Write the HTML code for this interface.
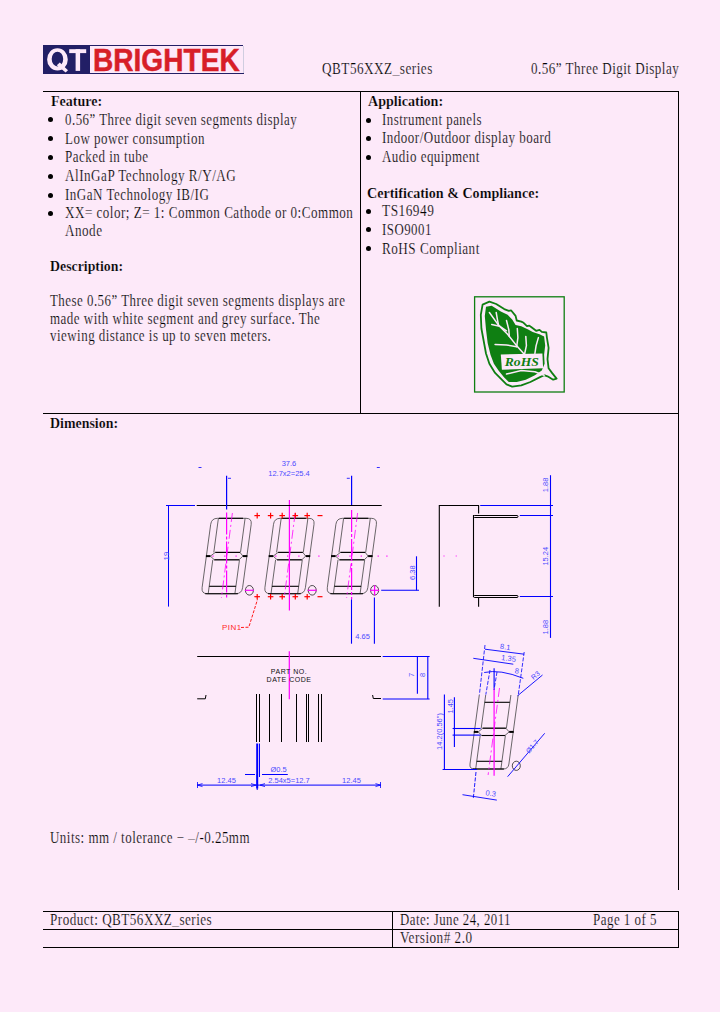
<!DOCTYPE html>
<html><head><meta charset="utf-8">
<style>
html,body{margin:0;padding:0;}
body{width:720px;height:1012px;background:#fde9f9;position:relative;overflow:hidden;}
.t{position:absolute;white-space:nowrap;line-height:0;transform-origin:0 0;}
.t span{display:inline-block;line-height:0;vertical-align:baseline;-webkit-text-stroke:0.2px #fde9f9;}
.hl{position:absolute;background:#000;height:1px;}
.vl{position:absolute;background:#000;width:1px;}
.t.s span{-webkit-text-stroke:0.5px currentColor;}
.bul{position:absolute;width:5px;height:5px;border-radius:50%;background:#000;}
svg{position:absolute;left:0;top:0;}
</style></head><body>
<div style="position:absolute;left:43px;top:45px;width:47px;height:29px;background:#221f66"></div>
<div style="position:absolute;left:90px;top:45px;width:153px;height:1px;background:#221f66"></div>
<svg width="100" height="80" viewBox="0 0 100 80" style="position:absolute;left:0;top:0"><path fill="#fde9f9" fill-rule="evenodd" d="M47.1,59.4 A10.35,11.2 0 1 0 67.8,59.4 A10.35,11.2 0 1 0 47.1,59.4 Z M51.7,59.05 A5.75,7.35 0 1 0 63.2,59.05 A5.75,7.35 0 1 0 51.7,59.05 Z"/><path fill="#fde9f9" d="M56.8,65.2 L59.8,62.6 L68,70.2 L65.6,72.4 Z"/><rect x="69.2" y="49.2" width="17" height="3.9" fill="#fde9f9"/><rect x="75.6" y="49.2" width="4.5" height="21.7" fill="#fde9f9"/></svg>
<div style="position:absolute;left:90px;top:73px;width:154px;height:1px;background:#221f66"></div>
<div style="position:absolute;left:243px;top:46px;width:1px;height:27px;background:#d0cde0"></div>
<div class="hl" style="left:43px;top:91px;width:636px"></div>
<div class="vl" style="left:678px;top:91px;height:799px"></div>
<div class="vl" style="left:360px;top:91px;height:323px"></div>
<div class="hl" style="left:43px;top:413px;width:636px"></div>
<div class="hl" style="left:43px;top:911px;width:636px"></div>
<div class="hl" style="left:43px;top:929px;width:636px"></div>
<div class="hl" style="left:43px;top:947px;width:636px"></div>
<div class="vl" style="left:392px;top:911px;height:37px"></div>
<div class="vl" style="left:678px;top:911px;height:37px"></div>
<div class="bul" style="left:48.0px;top:117.2px"></div><div class="bul" style="left:48.0px;top:136.0px"></div><div class="bul" style="left:48.0px;top:155.0px"></div><div class="bul" style="left:48.0px;top:173.5px"></div><div class="bul" style="left:48.0px;top:192.5px"></div><div class="bul" style="left:48.0px;top:211.0px"></div><div class="bul" style="left:366.0px;top:117.5px"></div><div class="bul" style="left:366.0px;top:136.0px"></div><div class="bul" style="left:366.0px;top:154.7px"></div><div class="bul" style="left:366.0px;top:209.2px"></div><div class="bul" style="left:366.0px;top:227.4px"></div><div class="bul" style="left:366.0px;top:246.2px"></div>
<svg width="720" height="1012" viewBox="0 0 720 1012"><rect x="474.6" y="296.8" width="89.6" height="95.2" fill="none" stroke="#0f7f12" stroke-width="1.3"/><path d="M482.6,304.6 L489.4,301.7 L496.2,304.0 L504.2,309.1 L508.8,310.8 L511.0,310.3 L515.6,315.9 L516.7,320.5 L521.3,321.6 L523.6,322.8 L527.0,326.2 L529.3,325.6 L531.5,327.3 L536.1,330.8 L539.5,329.8 L541.8,331.9 L546.3,332.5 L546.9,337.6 L548.6,347.8 L547.5,359.2 L548.6,368.3 L552.0,372.9 L556.6,378.6 L553.2,379.7 L547.5,376.3 L544.1,375.2 L539.5,377.4 L530.4,382.0 L521.3,385.4 L512.2,386.6 L506.5,384.3 L500.8,378.6 L495.1,372.9 L489.4,363.8 L486.0,353.5 L483.7,341.0 L481.4,328.5 L480.8,314.8 Z" fill="none" stroke="#0f7f12" stroke-width="1.8" stroke-linejoin="round"/><path d="M486.0,306.8 L491.7,305.7 L500.8,311.4 L507.6,314.8 L512.2,319.4 L515.6,325.1 L521.3,326.2 L528.1,329.6 L532.7,331.9 L539.5,334.2 L544.1,336.4 L545.2,345.6 L544.1,354.7 L544.6,363.8 L541.8,370.6 L534.9,375.2 L525.8,379.7 L516.7,382.0 L508.8,382.0 L504.2,377.4 L498.5,370.6 L493.9,363.8 L490.5,354.7 L487.7,343.3 L486.0,329.6 L484.8,315.9 Z" fill="#0f7f12" stroke="none"/><path d="M489.4,312.5 L498.5,325.1 L507.6,334.2 L515.6,344.4 L523.6,353.5" fill="none" stroke="#fde9f9" stroke-width="1.5" stroke-linecap="round" stroke-linejoin="round"/><path d="M491.7,324.5 L499.6,326.2 L506.5,330.8" fill="none" stroke="#fde9f9" stroke-width="1.5" stroke-linecap="round" stroke-linejoin="round"/><path d="M495.1,344.4 L506.5,345.0 L516.7,346.7" fill="none" stroke="#fde9f9" stroke-width="1.5" stroke-linecap="round" stroke-linejoin="round"/><path d="M496.2,312.5 L497.4,319.4 L498.5,325.1" fill="none" stroke="#fde9f9" stroke-width="1.5" stroke-linecap="round" stroke-linejoin="round"/><path d="M506.5,320.5 L508.8,329.6 L509.3,336.4" fill="none" stroke="#fde9f9" stroke-width="1.5" stroke-linecap="round" stroke-linejoin="round"/><path d="M517.3,328.5 L517.9,337.6 L516.7,346.7" fill="none" stroke="#fde9f9" stroke-width="1.5" stroke-linecap="round" stroke-linejoin="round"/><path d="M525.8,336.4 L526.4,345.6 L524.7,353.5" fill="none" stroke="#fde9f9" stroke-width="1.5" stroke-linecap="round" stroke-linejoin="round"/><path d="M538.4,337.6 L536.1,345.6 L534.9,353.5" fill="none" stroke="#fde9f9" stroke-width="1.5" stroke-linecap="round" stroke-linejoin="round"/><path d="M506.5,374.0 L521.3,370.6 L534.9,371.8 L544.1,375.2" fill="none" stroke="#fde9f9" stroke-width="1.5" stroke-linecap="round" stroke-linejoin="round"/><path d="M500.8,354.4 L542.4,353.5 L543.1,368.3 L501.9,369.7 Z" fill="#fde9f9"/><text x="521.8" y="365.8" fill="#0f7f12" font-family="Liberation Serif, serif" font-style="italic" font-weight="bold" font-size="12.5" text-anchor="middle" textLength="34" lengthAdjust="spacingAndGlyphs">RoHS</text></svg>
<svg width="720" height="1012" viewBox="0 0 720 1012"><path d="M217.5,518.3 L246.0,518.3 Q252.0,518.3 251.2,524.3 L242.6,587.7 Q241.8,593.7 235.8,593.7 L207.3,593.7 Q201.3,593.7 202.1,587.7 L210.7,524.3 Q211.5,518.3 217.5,518.3 Z" stroke="#444" stroke-width="0.8" fill="none" /><line x1="218.4" y1="518.3" x2="213.8" y2="552.4" stroke="#444" stroke-width="0.8" /><line x1="245.1" y1="518.3" x2="240.5" y2="552.4" stroke="#444" stroke-width="0.8" /><line x1="212.8" y1="559.8" x2="208.2" y2="593.7" stroke="#444" stroke-width="0.8" /><line x1="239.5" y1="559.8" x2="234.9" y2="593.7" stroke="#444" stroke-width="0.8" /><path d="M210.4,556.1 L215.3,552.4 L240.0,552.4 L242.9,556.1 L239.0,559.8 L214.3,559.8 Z" stroke="#444" stroke-width="0.8" fill="none" /><line x1="215.3" y1="552.4" x2="240.0" y2="552.4" stroke="#000" stroke-width="1.1" /><line x1="214.3" y1="559.8" x2="239.0" y2="559.8" stroke="#000" stroke-width="1.1" /><line x1="205.9" y1="556.1" x2="210.4" y2="556.1" stroke="#000" stroke-width="2" /><line x1="242.9" y1="556.1" x2="247.4" y2="556.1" stroke="#000" stroke-width="2" /><line x1="209.2" y1="586.3" x2="235.9" y2="586.3" stroke="#000" stroke-width="1.1" /><line x1="205.2" y1="593.7" x2="237.9" y2="593.7" stroke="#000" stroke-width="1.1" /><line x1="218.9" y1="518.3" x2="243.1" y2="518.3" stroke="#000" stroke-width="1.1" /><path d="M280.3,518.3 L308.8,518.3 Q314.8,518.3 314.0,524.3 L305.4,587.7 Q304.6,593.7 298.6,593.7 L270.1,593.7 Q264.1,593.7 264.9,587.7 L273.5,524.3 Q274.3,518.3 280.3,518.3 Z" stroke="#444" stroke-width="0.8" fill="none" /><line x1="281.2" y1="518.3" x2="276.6" y2="552.4" stroke="#444" stroke-width="0.8" /><line x1="307.9" y1="518.3" x2="303.3" y2="552.4" stroke="#444" stroke-width="0.8" /><line x1="275.6" y1="559.8" x2="271.0" y2="593.7" stroke="#444" stroke-width="0.8" /><line x1="302.3" y1="559.8" x2="297.7" y2="593.7" stroke="#444" stroke-width="0.8" /><path d="M273.2,556.1 L278.1,552.4 L302.8,552.4 L305.7,556.1 L301.8,559.8 L277.1,559.8 Z" stroke="#444" stroke-width="0.8" fill="none" /><line x1="278.1" y1="552.4" x2="302.8" y2="552.4" stroke="#000" stroke-width="1.1" /><line x1="277.1" y1="559.8" x2="301.8" y2="559.8" stroke="#000" stroke-width="1.1" /><line x1="268.7" y1="556.1" x2="273.2" y2="556.1" stroke="#000" stroke-width="2" /><line x1="305.7" y1="556.1" x2="310.2" y2="556.1" stroke="#000" stroke-width="2" /><line x1="272.0" y1="586.3" x2="298.7" y2="586.3" stroke="#000" stroke-width="1.1" /><line x1="268.0" y1="593.7" x2="300.7" y2="593.7" stroke="#000" stroke-width="1.1" /><line x1="281.7" y1="518.3" x2="305.9" y2="518.3" stroke="#000" stroke-width="1.1" /><path d="M342.7,518.3 L371.2,518.3 Q377.2,518.3 376.4,524.3 L367.8,587.7 Q367.0,593.7 361.0,593.7 L332.5,593.7 Q326.5,593.7 327.3,587.7 L335.9,524.3 Q336.7,518.3 342.7,518.3 Z" stroke="#444" stroke-width="0.8" fill="none" /><line x1="343.6" y1="518.3" x2="339.0" y2="552.4" stroke="#444" stroke-width="0.8" /><line x1="370.3" y1="518.3" x2="365.7" y2="552.4" stroke="#444" stroke-width="0.8" /><line x1="338.0" y1="559.8" x2="333.4" y2="593.7" stroke="#444" stroke-width="0.8" /><line x1="364.7" y1="559.8" x2="360.1" y2="593.7" stroke="#444" stroke-width="0.8" /><path d="M335.6,556.1 L340.5,552.4 L365.2,552.4 L368.1,556.1 L364.2,559.8 L339.5,559.8 Z" stroke="#444" stroke-width="0.8" fill="none" /><line x1="340.5" y1="552.4" x2="365.2" y2="552.4" stroke="#000" stroke-width="1.1" /><line x1="339.5" y1="559.8" x2="364.2" y2="559.8" stroke="#000" stroke-width="1.1" /><line x1="331.1" y1="556.1" x2="335.6" y2="556.1" stroke="#000" stroke-width="2" /><line x1="368.1" y1="556.1" x2="372.6" y2="556.1" stroke="#000" stroke-width="2" /><line x1="334.4" y1="586.3" x2="361.1" y2="586.3" stroke="#000" stroke-width="1.1" /><line x1="330.4" y1="593.7" x2="363.1" y2="593.7" stroke="#000" stroke-width="1.1" /><line x1="344.1" y1="518.3" x2="368.3" y2="518.3" stroke="#000" stroke-width="1.1" /><line x1="226.6" y1="512.5" x2="226.6" y2="599.5" stroke="#ff00ff" stroke-width="1.2" stroke-dasharray="22 2 3 2"/><line x1="289.4" y1="500.0" x2="289.4" y2="610.5" stroke="#ff00ff" stroke-width="1.2" /><line x1="351.6" y1="510.0" x2="351.6" y2="599.5" stroke="#ff00ff" stroke-width="1.2" stroke-dasharray="22 2 3 2"/><line x1="232.4" y1="513.0" x2="221.4" y2="598.0" stroke="#ff00ff" stroke-width="0.8" stroke-dasharray="9 3 2 3"/><rect x="212.4" y="555.5" width="1.2" height="1.2" fill="#ff00ff"/><rect x="224.2" y="555.5" width="1.2" height="1.2" fill="#ff00ff"/><rect x="235.5" y="555.5" width="1.2" height="1.2" fill="#ff00ff"/><line x1="295.2" y1="513.0" x2="284.2" y2="598.0" stroke="#ff00ff" stroke-width="0.8" stroke-dasharray="9 3 2 3"/><rect x="275.2" y="555.5" width="1.2" height="1.2" fill="#ff00ff"/><rect x="287.0" y="555.5" width="1.2" height="1.2" fill="#ff00ff"/><rect x="298.3" y="555.5" width="1.2" height="1.2" fill="#ff00ff"/><line x1="357.6" y1="513.0" x2="346.6" y2="598.0" stroke="#ff00ff" stroke-width="0.8" stroke-dasharray="9 3 2 3"/><rect x="337.6" y="555.5" width="1.2" height="1.2" fill="#ff00ff"/><rect x="349.4" y="555.5" width="1.2" height="1.2" fill="#ff00ff"/><rect x="360.7" y="555.5" width="1.2" height="1.2" fill="#ff00ff"/><rect x="318.3" y="555.5" width="1.2" height="1.2" fill="#ff00ff"/><rect x="377.6" y="555.5" width="1.2" height="1.2" fill="#ff00ff"/><rect x="386.3" y="555.5" width="1.2" height="1.2" fill="#ff00ff"/><ellipse cx="249.4" cy="590.3" rx="4" ry="4.8" stroke="#222" stroke-width="0.8" fill="none"/><line x1="244.9" y1="590.3" x2="253.9" y2="590.3" stroke="#ff00ff" stroke-width="1.2" /><ellipse cx="312.2" cy="590.3" rx="4" ry="4.8" stroke="#222" stroke-width="0.8" fill="none"/><line x1="307.7" y1="590.3" x2="316.7" y2="590.3" stroke="#ff00ff" stroke-width="1.2" /><ellipse cx="374.6" cy="590.3" rx="4" ry="4.8" stroke="#222" stroke-width="0.8" fill="none"/><line x1="370.1" y1="590.3" x2="379.1" y2="590.3" stroke="#ff00ff" stroke-width="1.2" /><line x1="374.6" y1="585.3" x2="374.6" y2="595.3" stroke="#ff00ff" stroke-width="1.2" /><line x1="196.7" y1="505.5" x2="381.7" y2="505.5" stroke="#000" stroke-width="1.1" /><line x1="197.2" y1="656.5" x2="381.0" y2="656.5" stroke="#000" stroke-width="1.1" /><line x1="166.0" y1="505.5" x2="195.0" y2="505.5" stroke="#0000ff" stroke-width="1" /><line x1="168.5" y1="505.5" x2="168.5" y2="606.6" stroke="#0000ff" stroke-width="1" /><text x="167.0" y="556.0" fill="#4b4bff" font-size="8" text-anchor="middle" font-family="Liberation Sans, sans-serif" transform="rotate(-90 167 556)" dominant-baseline="middle">19</text><line x1="226.6" y1="475.8" x2="226.6" y2="509.5" stroke="#0000ff" stroke-width="1.2" /><line x1="351.6" y1="475.8" x2="351.6" y2="505.0" stroke="#0000ff" stroke-width="1.2" /><line x1="351.5" y1="599.4" x2="351.5" y2="643.7" stroke="#0000ff" stroke-width="1.1" /><line x1="374.4" y1="597.5" x2="374.4" y2="643.7" stroke="#0000ff" stroke-width="1.1" /><text x="362.6" y="638.6" fill="#4b4bff" font-size="7.5" text-anchor="middle" font-family="Liberation Sans, sans-serif" >4.65</text><line x1="381.2" y1="590.3" x2="419.0" y2="590.3" stroke="#0000ff" stroke-width="1.1" /><line x1="416.5" y1="556.3" x2="416.5" y2="590.3" stroke="#0000ff" stroke-width="1.1" /><text x="413.5" y="572.6" fill="#4b4bff" font-size="7.5" text-anchor="middle" font-family="Liberation Sans, sans-serif" transform="rotate(-90 413.5 572.6)" dominant-baseline="middle">6.38</text><text x="289.0" y="465.5" fill="#4b4bff" font-size="7.5" text-anchor="middle" font-family="Liberation Sans, sans-serif" >37.6</text><text x="289.0" y="476.2" fill="#4b4bff" font-size="7.5" text-anchor="middle" font-family="Liberation Sans, sans-serif" >12.7x2=25.4</text><line x1="198.5" y1="467.5" x2="201.5" y2="467.5" stroke="#0000ff" stroke-width="0.8" /><line x1="376.8" y1="467.5" x2="379.8" y2="467.5" stroke="#0000ff" stroke-width="0.8" /><line x1="228.0" y1="478.3" x2="231.0" y2="478.3" stroke="#0000ff" stroke-width="0.8" /><line x1="346.8" y1="478.3" x2="349.8" y2="478.3" stroke="#0000ff" stroke-width="0.8" /><line x1="254.4" y1="515.6" x2="260.0" y2="515.6" stroke="#ff0000" stroke-width="1.2" /><line x1="257.2" y1="512.8" x2="257.2" y2="518.4" stroke="#ff0000" stroke-width="1.2" /><line x1="267.8" y1="515.6" x2="273.4" y2="515.6" stroke="#ff0000" stroke-width="1.2" /><line x1="270.6" y1="512.8" x2="270.6" y2="518.4" stroke="#ff0000" stroke-width="1.2" /><line x1="279.4" y1="515.6" x2="285.0" y2="515.6" stroke="#ff0000" stroke-width="1.2" /><line x1="282.2" y1="512.8" x2="282.2" y2="518.4" stroke="#ff0000" stroke-width="1.2" /><line x1="292.5" y1="515.6" x2="298.1" y2="515.6" stroke="#ff0000" stroke-width="1.2" /><line x1="295.3" y1="512.8" x2="295.3" y2="518.4" stroke="#ff0000" stroke-width="1.2" /><line x1="304.4" y1="515.6" x2="310.0" y2="515.6" stroke="#ff0000" stroke-width="1.2" /><line x1="307.2" y1="512.8" x2="307.2" y2="518.4" stroke="#ff0000" stroke-width="1.2" /><line x1="317.5" y1="515.6" x2="322.5" y2="515.6" stroke="#ff0000" stroke-width="1.2" /><line x1="254.4" y1="596.7" x2="260.0" y2="596.7" stroke="#ff0000" stroke-width="1.2" /><line x1="257.2" y1="593.9" x2="257.2" y2="599.5" stroke="#ff0000" stroke-width="1.2" /><line x1="267.8" y1="596.7" x2="273.4" y2="596.7" stroke="#ff0000" stroke-width="1.2" /><line x1="270.6" y1="593.9" x2="270.6" y2="599.5" stroke="#ff0000" stroke-width="1.2" /><line x1="279.4" y1="596.7" x2="285.0" y2="596.7" stroke="#ff0000" stroke-width="1.2" /><line x1="282.2" y1="593.9" x2="282.2" y2="599.5" stroke="#ff0000" stroke-width="1.2" /><line x1="292.5" y1="596.7" x2="298.1" y2="596.7" stroke="#ff0000" stroke-width="1.2" /><line x1="295.3" y1="593.9" x2="295.3" y2="599.5" stroke="#ff0000" stroke-width="1.2" /><line x1="304.4" y1="596.7" x2="310.0" y2="596.7" stroke="#ff0000" stroke-width="1.2" /><line x1="307.2" y1="593.9" x2="307.2" y2="599.5" stroke="#ff0000" stroke-width="1.2" /><line x1="317.5" y1="596.7" x2="322.5" y2="596.7" stroke="#ff0000" stroke-width="1.2" /><text x="231.8" y="630.3" fill="#ff2a2a" font-size="8" text-anchor="middle" font-family="Liberation Sans, sans-serif" letter-spacing="0.4">PIN1</text><path d="M241,627.5 L248.8,627.2 L257.5,599.5" stroke="#ff0000" stroke-width="0.9" fill="none" stroke-dasharray="3 1.5"/><path d="M439.3,606.8 L439.3,505.5 L478.6,505.5 L478.6,513.5" stroke="#000" stroke-width="1.1" fill="none" /><rect x="473.5" y="515.5" width="44.5" height="2" stroke="#000" stroke-width="1" fill="none" rx="1"/><rect x="473.5" y="595.5" width="44.5" height="2" stroke="#000" stroke-width="1" fill="none" rx="1"/><line x1="473.5" y1="515.0" x2="473.5" y2="597.0" stroke="#000" stroke-width="1.1" /><line x1="478.6" y1="598.0" x2="478.6" y2="606.8" stroke="#000" stroke-width="1.1" /><line x1="480.2" y1="505.5" x2="553.0" y2="505.5" stroke="#0000ff" stroke-width="1.1" /><line x1="519.8" y1="515.5" x2="553.0" y2="515.5" stroke="#0000ff" stroke-width="1.1" /><line x1="519.8" y1="596.5" x2="553.0" y2="596.5" stroke="#0000ff" stroke-width="1.1" /><line x1="550.5" y1="475.2" x2="550.5" y2="637.9" stroke="#0000ff" stroke-width="1.1" /><text x="546.5" y="484.9" fill="#4b4bff" font-size="7.5" text-anchor="middle" font-family="Liberation Sans, sans-serif" transform="rotate(-90 546.5 484.9)" dominant-baseline="middle">1.88</text><text x="546.5" y="556.2" fill="#4b4bff" font-size="7.5" text-anchor="middle" font-family="Liberation Sans, sans-serif" transform="rotate(-90 546.5 556.2)" dominant-baseline="middle">15.24</text><text x="546.5" y="627.2" fill="#4b4bff" font-size="7.5" text-anchor="middle" font-family="Liberation Sans, sans-serif" transform="rotate(-90 546.5 627.2)" dominant-baseline="middle">1.88</text><rect x="443.5" y="555.5" width="1" height="1" fill="#ff00ff"/><rect x="455.7" y="555.5" width="1" height="1" fill="#ff00ff"/><line x1="289.3" y1="651.3" x2="289.3" y2="699.2" stroke="#ff00ff" stroke-width="1.2" /><text x="289.0" y="673.5" fill="#111" font-size="7" text-anchor="middle" font-family="Liberation Sans, sans-serif" letter-spacing="0.5" font-weight="normal">PART NO.</text><text x="289.0" y="682.3" fill="#111" font-size="7" text-anchor="middle" font-family="Liberation Sans, sans-serif" letter-spacing="0.5">DATE CODE</text><path d="M197.2,698.8 L205.3,698.8 L206,695" stroke="#000" stroke-width="1" fill="none" /><path d="M381,698.5 L373.3,698.5 L372.6,695" stroke="#000" stroke-width="1" fill="none" /><line x1="256.5" y1="694.0" x2="256.5" y2="742.0" stroke="#000" stroke-width="1" /><line x1="259.5" y1="694.0" x2="259.5" y2="742.0" stroke="#000" stroke-width="1" /><line x1="269.5" y1="694.0" x2="269.5" y2="742.0" stroke="#000" stroke-width="1" /><line x1="281.5" y1="694.0" x2="281.5" y2="742.0" stroke="#000" stroke-width="1" /><line x1="296.5" y1="694.0" x2="296.5" y2="742.0" stroke="#000" stroke-width="1" /><line x1="306.5" y1="694.0" x2="306.5" y2="742.0" stroke="#000" stroke-width="1" /><line x1="308.5" y1="694.0" x2="308.5" y2="742.0" stroke="#000" stroke-width="1" /><line x1="318.5" y1="694.0" x2="318.5" y2="742.0" stroke="#000" stroke-width="1" /><line x1="321.5" y1="694.0" x2="321.5" y2="742.0" stroke="#000" stroke-width="1" /><line x1="257.2" y1="743.5" x2="257.2" y2="788.5" stroke="#0000ff" stroke-width="2" /><line x1="259.5" y1="743.5" x2="259.5" y2="777.0" stroke="#0000ff" stroke-width="1" /><line x1="382.7" y1="656.5" x2="429.6" y2="656.5" stroke="#0000ff" stroke-width="1.1" /><line x1="382.7" y1="699.0" x2="429.6" y2="699.0" stroke="#0000ff" stroke-width="1.1" /><line x1="417.4" y1="656.5" x2="417.4" y2="693.8" stroke="#0000ff" stroke-width="1.1" /><line x1="427.8" y1="656.5" x2="427.8" y2="699.0" stroke="#0000ff" stroke-width="1.1" /><text x="412.0" y="675.0" fill="#4b4bff" font-size="7.5" text-anchor="middle" font-family="Liberation Sans, sans-serif" transform="rotate(-90 412 675)" dominant-baseline="middle">7</text><text x="423.0" y="675.0" fill="#4b4bff" font-size="7.5" text-anchor="middle" font-family="Liberation Sans, sans-serif" transform="rotate(-90 423 675)" dominant-baseline="middle">8</text><line x1="197.0" y1="785.1" x2="381.0" y2="785.1" stroke="#0000ff" stroke-width="1" /><line x1="197.5" y1="782.0" x2="197.5" y2="788.0" stroke="#0000ff" stroke-width="0.8" /><line x1="380.5" y1="782.0" x2="380.5" y2="788.0" stroke="#0000ff" stroke-width="0.8" /><line x1="257.2" y1="774.0" x2="257.2" y2="790.0" stroke="#0000ff" stroke-width="1" /><path d="M202.5,783.6 L197.5,785.1 L202.5,786.6" stroke="#0000ff" stroke-width="0.8" fill="none" /><path d="M251,783.6 L256,785.1 L251,786.6" stroke="#0000ff" stroke-width="0.8" fill="none" /><path d="M265,783.6 L260,785.1 L265,786.6" stroke="#0000ff" stroke-width="0.8" fill="none" /><path d="M375.5,783.6 L380.5,785.1 L375.5,786.6" stroke="#0000ff" stroke-width="0.8" fill="none" /><text x="226.5" y="783.3" fill="#4b4bff" font-size="7.5" text-anchor="middle" font-family="Liberation Sans, sans-serif" >12.45</text><text x="289.0" y="783.3" fill="#4b4bff" font-size="7.5" text-anchor="middle" font-family="Liberation Sans, sans-serif" >2.54x5=12.7</text><text x="351.5" y="783.3" fill="#4b4bff" font-size="7.5" text-anchor="middle" font-family="Liberation Sans, sans-serif" >12.45</text><text x="278.6" y="771.8" fill="#4b4bff" font-size="7.5" text-anchor="middle" font-family="Liberation Sans, sans-serif" >Ø0.5</text><line x1="245.0" y1="774.5" x2="255.0" y2="774.5" stroke="#0000ff" stroke-width="1" /><line x1="262.0" y1="774.5" x2="287.8" y2="774.5" stroke="#0000ff" stroke-width="1" /><path d="M518.2,695.0 L508.9,764.0 Q508.2,769.0 503.2,769.0 L474.3,769.0 Q469.3,769.0 470.0,764.0 L479.3,695.0" stroke="#444" stroke-width="0.8" fill="none" /><line x1="485.7" y1="695.0" x2="481.2" y2="728.2" stroke="#444" stroke-width="0.8" /><line x1="510.9" y1="695.0" x2="506.4" y2="728.2" stroke="#444" stroke-width="0.8" /><line x1="480.2" y1="735.5" x2="475.7" y2="769.0" stroke="#444" stroke-width="0.8" /><line x1="505.4" y1="735.5" x2="500.9" y2="769.0" stroke="#444" stroke-width="0.8" /><path d="M478.3,731.9 L482.7,728.2 L505.9,728.2 L509.2,731.9 L504.9,735.5 L481.7,735.5 Z" stroke="#444" stroke-width="0.8" fill="none" /><line x1="482.7" y1="728.2" x2="505.9" y2="728.2" stroke="#000" stroke-width="1.1" /><line x1="481.7" y1="735.5" x2="504.9" y2="735.5" stroke="#000" stroke-width="1.1" /><line x1="473.8" y1="731.9" x2="478.3" y2="731.9" stroke="#000" stroke-width="2" /><line x1="509.2" y1="731.9" x2="513.7" y2="731.9" stroke="#000" stroke-width="2" /><line x1="476.7" y1="761.3" x2="501.9" y2="761.3" stroke="#000" stroke-width="1.1" /><line x1="472.7" y1="769.0" x2="503.9" y2="769.0" stroke="#000" stroke-width="1.1" /><line x1="484.7" y1="702.3" x2="509.9" y2="702.3" stroke="#000" stroke-width="1.1" /><line x1="494.1" y1="668.3" x2="494.1" y2="688.3" stroke="#0000ff" stroke-width="1.1" /><line x1="494.1" y1="688.3" x2="494.1" y2="775.8" stroke="#ff00ff" stroke-width="1.2" /><line x1="499.5" y1="688.0" x2="488.1" y2="775.0" stroke="#ff00ff" stroke-width="0.8" stroke-dasharray="9 3 2 3"/><line x1="485.0" y1="645.0" x2="479.4" y2="694.7" stroke="#0000ff" stroke-width="0.8" stroke-dasharray="4 1.5"/><line x1="524.2" y1="652.0" x2="518.3" y2="694.7" stroke="#0000ff" stroke-width="0.8" stroke-dasharray="4 1.5"/><line x1="490.0" y1="670.0" x2="485.8" y2="694.7" stroke="#0000ff" stroke-width="0.8" stroke-dasharray="4 1.5"/><line x1="497.0" y1="672.0" x2="494.0" y2="690.0" stroke="#0000ff" stroke-width="0.8" stroke-dasharray="4 1.5"/><line x1="485.0" y1="649.2" x2="524.2" y2="654.2" stroke="#0000ff" stroke-width="0.9" /><text x="505.0" y="649.5" fill="#4b4bff" font-size="7.5" text-anchor="middle" font-family="Liberation Sans, sans-serif" transform="rotate(7 505 649.5)">8.1</text><line x1="473.3" y1="658.3" x2="513.3" y2="664.2" stroke="#0000ff" stroke-width="0.9" /><text x="508.3" y="661.0" fill="#4b4bff" font-size="7.5" text-anchor="middle" font-family="Liberation Sans, sans-serif" transform="rotate(7 508.3 661)">1.35</text><path d="M484.2,672.5 Q500,669 523.3,678.3" stroke="#0000ff" stroke-width="0.9" fill="none" /><text x="516.7" y="673.5" fill="#4b4bff" font-size="7.5" text-anchor="middle" font-family="Liberation Sans, sans-serif" transform="rotate(7 516.7 673.5)">8</text><line x1="517.5" y1="695.8" x2="542.5" y2="675.0" stroke="#0000ff" stroke-width="0.9" /><text x="537.0" y="677.0" fill="#4b4bff" font-size="7" text-anchor="middle" font-family="Liberation Sans, sans-serif" transform="rotate(-40 537 677)">R3</text><line x1="444.4" y1="694.5" x2="444.4" y2="769.5" stroke="#0000ff" stroke-width="1.1" /><line x1="442.6" y1="769.5" x2="477.0" y2="769.5" stroke="#0000ff" stroke-width="1.1" /><line x1="454.4" y1="697.2" x2="454.4" y2="746.9" stroke="#0000ff" stroke-width="1.1" /><line x1="452.6" y1="728.5" x2="480.6" y2="728.5" stroke="#0000ff" stroke-width="1.1" /><line x1="452.6" y1="735.1" x2="480.6" y2="735.1" stroke="#0000ff" stroke-width="1.1" /><text x="440.5" y="731.5" fill="#4b4bff" font-size="7.5" text-anchor="middle" font-family="Liberation Sans, sans-serif" transform="rotate(-90 440.5 731.5)" dominant-baseline="middle">14.2(0.56")</text><text x="451.0" y="706.3" fill="#4b4bff" font-size="7.5" text-anchor="middle" font-family="Liberation Sans, sans-serif" transform="rotate(-90 451 706.3)" dominant-baseline="middle">1.45</text><ellipse cx="516.3" cy="765.8" rx="4" ry="4.6" stroke="#222" stroke-width="0.8" fill="none"/><line x1="507.6" y1="776.7" x2="544.7" y2="733.3" stroke="#0000ff" stroke-width="0.9" /><text x="534.0" y="748.0" fill="#4b4bff" font-size="7" text-anchor="middle" font-family="Liberation Sans, sans-serif" transform="rotate(-48 534 748)">Ø1.7</text><line x1="476.0" y1="772.0" x2="473.3" y2="798.3" stroke="#0000ff" stroke-width="0.9" stroke-dasharray="4 1.5"/><line x1="462.5" y1="794.7" x2="496.8" y2="800.1" stroke="#0000ff" stroke-width="0.9" /><text x="490.5" y="796.0" fill="#4b4bff" font-size="7.5" text-anchor="middle" font-family="Liberation Sans, sans-serif" transform="rotate(7 490.5 796)">0.3</text></svg>
<div class="t s" style="left:93.12px;top:60.39px;font:bold 31.5px/0 'Liberation Sans', sans-serif;transform:scaleX(0.8916);letter-spacing:0px;color:#d71e28"><span>BRIGHTEK</span></div>
<div class="t" style="left:321.70px;top:68.60px;font:16px/0 'Liberation Serif', serif;transform:scaleX(0.8248);letter-spacing:0.6px;color:#000"><span>QBT56XXZ_series</span></div>
<div class="t" style="left:531.00px;top:68.60px;font:16px/0 'Liberation Serif', serif;transform:scaleX(0.8156);letter-spacing:0.6px;color:#000"><span>0.56” Three Digit Display</span></div>
<div class="t" style="left:50.70px;top:100.94px;font:bold 15px/0 'Liberation Serif', serif;transform:scaleX(0.9366);letter-spacing:0px;color:#000"><span>Feature:</span></div>
<div class="t" style="left:64.60px;top:120.10px;font:16px/0 'Liberation Serif', serif;transform:scaleX(0.8071);letter-spacing:0.6px;color:#000"><span>0.56” Three digit seven segments display</span></div>
<div class="t" style="left:64.60px;top:138.50px;font:16px/0 'Liberation Serif', serif;transform:scaleX(0.8106);letter-spacing:0.6px;color:#000"><span>Low power consumption</span></div>
<div class="t" style="left:64.60px;top:156.80px;font:16px/0 'Liberation Serif', serif;transform:scaleX(0.8136);letter-spacing:0.6px;color:#000"><span>Packed in tube</span></div>
<div class="t" style="left:64.60px;top:175.90px;font:16px/0 'Liberation Serif', serif;transform:scaleX(0.8215);letter-spacing:0.6px;color:#000"><span>AlInGaP Technology R/Y/AG</span></div>
<div class="t" style="left:64.60px;top:194.70px;font:16px/0 'Liberation Serif', serif;transform:scaleX(0.8148);letter-spacing:0.6px;color:#000"><span>InGaN Technology IB/IG</span></div>
<div class="t" style="left:64.60px;top:213.10px;font:16px/0 'Liberation Serif', serif;transform:scaleX(0.8176);letter-spacing:0.6px;color:#000"><span>XX= color; Z= 1: Common Cathode or 0:Common</span></div>
<div class="t" style="left:64.60px;top:230.90px;font:16px/0 'Liberation Serif', serif;transform:scaleX(0.8208);letter-spacing:0.6px;color:#000"><span>Anode</span></div>
<div class="t" style="left:50.40px;top:266.14px;font:bold 15px/0 'Liberation Serif', serif;transform:scaleX(0.9225);letter-spacing:0px;color:#000"><span>Description:</span></div>
<div class="t" style="left:50.00px;top:301.10px;font:16px/0 'Liberation Serif', serif;transform:scaleX(0.8065);letter-spacing:0.6px;color:#000"><span>These 0.56” Three digit seven segments displays are</span></div>
<div class="t" style="left:50.00px;top:319.30px;font:16px/0 'Liberation Serif', serif;transform:scaleX(0.8112);letter-spacing:0.6px;color:#000"><span>made with white segment and grey surface. The</span></div>
<div class="t" style="left:50.00px;top:336.40px;font:16px/0 'Liberation Serif', serif;transform:scaleX(0.8089);letter-spacing:0.6px;color:#000"><span>viewing distance is up to seven meters.</span></div>
<div class="t" style="left:367.50px;top:101.14px;font:bold 15px/0 'Liberation Serif', serif;transform:scaleX(0.9391);letter-spacing:0px;color:#000"><span>Application:</span></div>
<div class="t" style="left:382.20px;top:119.50px;font:16px/0 'Liberation Serif', serif;transform:scaleX(0.8036);letter-spacing:0.6px;color:#000"><span>Instrument panels</span></div>
<div class="t" style="left:382.20px;top:138.30px;font:16px/0 'Liberation Serif', serif;transform:scaleX(0.8144);letter-spacing:0.6px;color:#000"><span>Indoor/Outdoor display board</span></div>
<div class="t" style="left:382.20px;top:157.30px;font:16px/0 'Liberation Serif', serif;transform:scaleX(0.8117);letter-spacing:0.6px;color:#000"><span>Audio equipment</span></div>
<div class="t" style="left:367.30px;top:192.84px;font:bold 15px/0 'Liberation Serif', serif;transform:scaleX(0.9391);letter-spacing:0px;color:#000"><span>Certification &amp; Compliance:</span></div>
<div class="t" style="left:382.20px;top:210.60px;font:16px/0 'Liberation Serif', serif;transform:scaleX(0.8318);letter-spacing:0.6px;color:#000"><span>TS16949</span></div>
<div class="t" style="left:382.20px;top:229.50px;font:16px/0 'Liberation Serif', serif;transform:scaleX(0.8032);letter-spacing:0.6px;color:#000"><span>ISO9001</span></div>
<div class="t" style="left:382.20px;top:249.10px;font:16px/0 'Liberation Serif', serif;transform:scaleX(0.8216);letter-spacing:0.6px;color:#000"><span>RoHS Compliant</span></div>
<div class="t" style="left:50.00px;top:422.74px;font:bold 15px/0 'Liberation Serif', serif;transform:scaleX(0.9275);letter-spacing:0px;color:#000"><span>Dimension:</span></div>
<div class="t" style="left:50.00px;top:837.80px;font:16px/0 'Liberation Serif', serif;transform:scaleX(0.8113);letter-spacing:0.6px;color:#000"><span>Units: mm / tolerance − –/-0.25mm</span></div>
<div class="t" style="left:49.50px;top:919.90px;font:16px/0 'Liberation Serif', serif;transform:scaleX(0.8194);letter-spacing:0.6px;color:#000"><span>Product: QBT56XXZ_series</span></div>
<div class="t" style="left:399.50px;top:920.10px;font:16px/0 'Liberation Serif', serif;transform:scaleX(0.7997);letter-spacing:0.6px;color:#000"><span>Date: June 24, 2011</span></div>
<div class="t" style="left:592.50px;top:920.10px;font:16px/0 'Liberation Serif', serif;transform:scaleX(0.8096);letter-spacing:0.6px;color:#000"><span>Page 1 of 5</span></div>
<div class="t" style="left:399.50px;top:937.90px;font:16px/0 'Liberation Serif', serif;transform:scaleX(0.8230);letter-spacing:0.6px;color:#000"><span>Version# 2.0</span></div>
</body></html>
